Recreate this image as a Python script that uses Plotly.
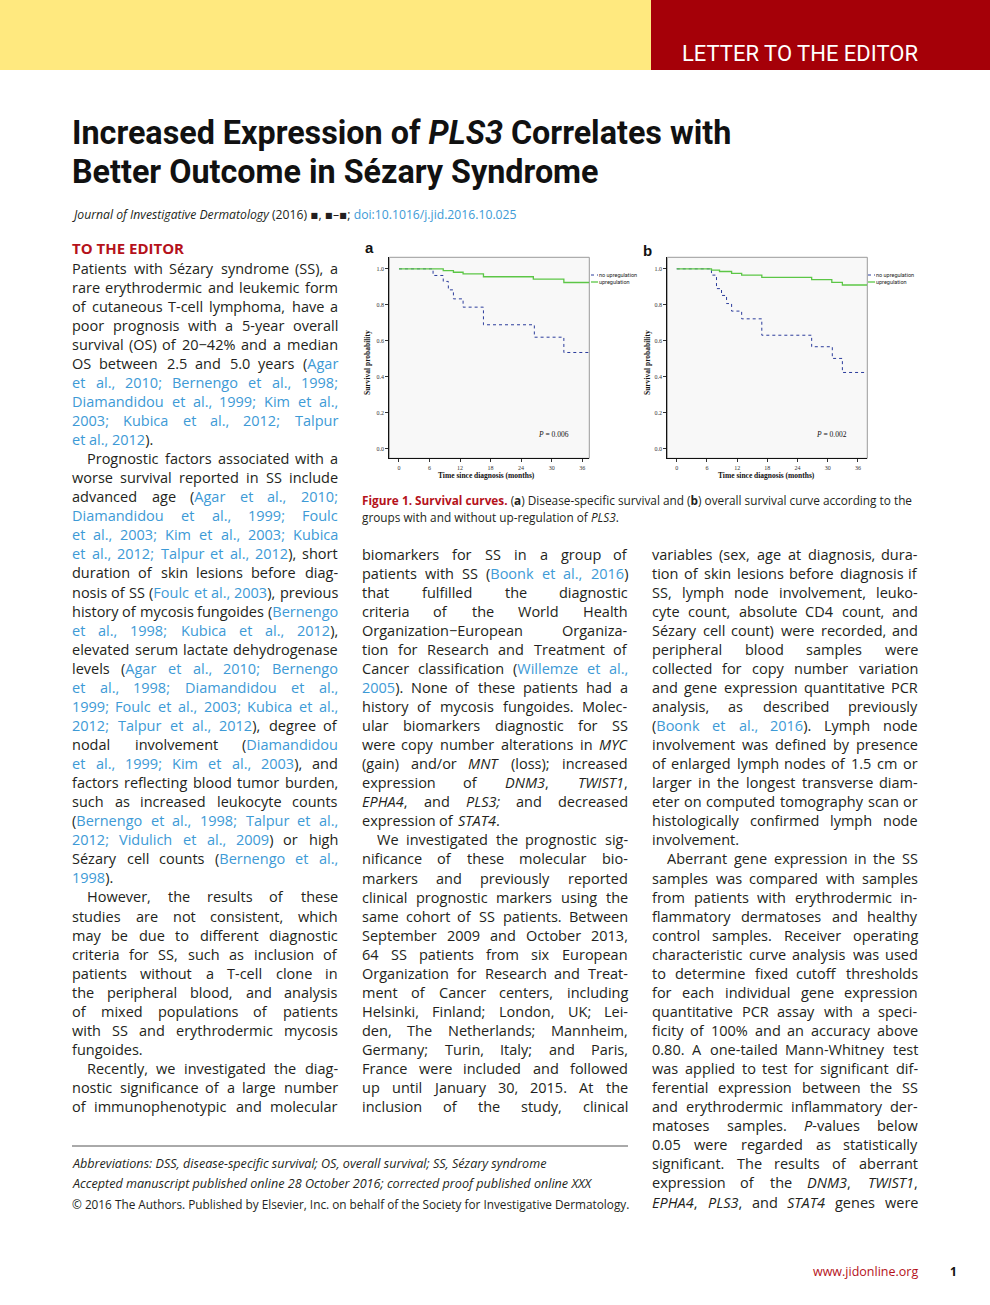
import plotly.graph_objects as go

W, H = 990, 1305

# ---------------- data (Kaplan-Meier step curves) ----------------
months_ticks = [0, 6, 12, 18, 24, 30, 36]
surv_ticks = [0.0, 0.2, 0.4, 0.6, 0.8, 1.0]

# panel a: disease-specific survival
a_up_t = [0, 8.7, 10.7, 12.6, 16.6, 26.4, 32.4, 37.4]
a_up_s = [1.0, 0.990, 0.981, 0.972, 0.956, 0.943, 0.924, 0.924]
a_no_t = [0, 6.7, 8.7, 9.7, 10.7, 12.6, 16.6, 26.6, 32.4, 37.4]
a_no_s = [1.0, 0.963, 0.930, 0.883, 0.833, 0.787, 0.689, 0.620, 0.535, 0.535]

# panel b: overall survival
b_up_t = [0, 6.9, 8.5, 10.9, 12.9, 16.9, 26.8, 30.8, 32.9, 37.8]
b_up_s = [1.0, 0.993, 0.985, 0.975, 0.965, 0.952, 0.940, 0.925, 0.910, 0.910]
b_no_t = [0, 6.9, 7.9, 8.9, 9.9, 10.9, 12.9, 16.9, 26.8, 30.9, 32.9, 37.8]
b_no_s = [1.0, 0.965, 0.890, 0.852, 0.807, 0.765, 0.722, 0.631, 0.567, 0.502, 0.424, 0.424]

legend_labels = ["no upregulation", "upregulation"]
p_values = ["0.006", "0.002"]

# ---------------- page text ----------------
# markup: [ ] = link colour, { } = italic, leading ">" = paragraph indent
title_lines = ["Increased Expression of <i>PLS3</i> Correlates with",
               "Better Outcome in Sézary Syndrome"]

col1 = [
    "Patients with Sézary syndrome (SS), a",
    "rare erythrodermic and leukemic form",
    "of cutaneous T-cell lymphoma, have a",
    "poor prognosis with a 5-year overall",
    "survival (OS) of 20\u221242% and a median",
    "OS between 2.5 and 5.0 years ([Agar]",
    "[et al., 2010; Bernengo et al., 1998;]",
    "[Diamandidou et al., 1999; Kim et al.,]",
    "[2003; Kubica et al., 2012; Talpur]",
    "[et al., 2012]).",
    ">Prognostic factors associated with a",
    "worse survival reported in SS include",
    "advanced age ([Agar et al., 2010;]",
    "[Diamandidou et al., 1999; Foulc]",
    "[et al., 2003; Kim et al., 2003; Kubica]",
    "[et al., 2012; Talpur et al., 2012]), short",
    "duration of skin lesions before diag-",
    "nosis of SS ([Foulc et al., 2003]), previous",
    "history of mycosis fungoides ([Bernengo]",
    "[et al., 1998; Kubica et al., 2012]),",
    "elevated serum lactate dehydrogenase",
    "levels ([Agar et al., 2010; Bernengo]",
    "[et al., 1998; Diamandidou et al.,]",
    "[1999; Foulc et al., 2003; Kubica et al.,]",
    "[2012; Talpur et al., 2012]), degree of",
    "nodal involvement ([Diamandidou]",
    "[et al., 1999; Kim et al., 2003]), and",
    "factors reflecting blood tumor burden,",
    "such as increased leukocyte counts",
    "([Bernengo et al., 1998; Talpur et al.,]",
    "[2012; Vidulich et al., 2009]) or high",
    "Sézary cell counts ([Bernengo et al.,]",
    "[1998]).",
    ">However, the results of these",
    "studies are not consistent, which",
    "may be due to different diagnostic",
    "criteria for SS, such as inclusion of",
    "patients without a T-cell clone in",
    "the peripheral blood, and analysis",
    "of mixed populations of patients",
    "with SS and erythrodermic mycosis",
    "fungoides.",
    ">Recently, we investigated the diag-",
    "nostic significance of a large number",
    "of immunophenotypic and molecular",
]

col2 = [
    "biomarkers for SS in a group of",
    "patients with SS ([Boonk et al., 2016])",
    "that fulfilled the diagnostic",
    "criteria of the World Health",
    "Organization\u2212European Organiza-",
    "tion for Research and Treatment of",
    "Cancer classification ([Willemze et al.,]",
    "[2005]). None of these patients had a",
    "history of mycosis fungoides. Molec-",
    "ular biomarkers diagnostic for SS",
    "were copy number alterations in {MYC}",
    "(gain) and/or {MNT} (loss); increased",
    "expression of {DNM3}, {TWIST1},",
    "{EPHA4}, and {PLS3;} and decreased",
    "expression of {STAT4}.",
    ">We investigated the prognostic sig-",
    "nificance of these molecular bio-",
    "markers and previously reported",
    "clinical prognostic markers using the",
    "same cohort of SS patients. Between",
    "September 2009 and October 2013,",
    "64 SS patients from six European",
    "Organization for Research and Treat-",
    "ment of Cancer centers, including",
    "Helsinki, Finland; London, UK; Lei-",
    "den, The Netherlands; Mannheim,",
    "Germany; Turin, Italy; and Paris,",
    "France were included and followed",
    "up until January 30, 2015. At the",
    "inclusion of the study, clinical",
]

col3 = [
    "variables (sex, age at diagnosis, dura-",
    "tion of skin lesions before diagnosis if",
    "SS, lymph node involvement, leuko-",
    "cyte count, absolute CD4 count, and",
    "Sézary cell count) were recorded, and",
    "peripheral blood samples were",
    "collected for copy number variation",
    "and gene expression quantitative PCR",
    "analysis, as described previously",
    "([Boonk et al., 2016]). Lymph node",
    "involvement was defined by presence",
    "of enlarged lymph nodes of 1.5 cm or",
    "larger in the longest transverse diam-",
    "eter on computed tomography scan or",
    "histologically confirmed lymph node",
    "involvement.",
    ">Aberrant gene expression in the SS",
    "samples was compared with samples",
    "from patients with erythrodermic in-",
    "flammatory dermatoses and healthy",
    "control samples. Receiver operating",
    "characteristic curve analysis was used",
    "to determine fixed cutoff thresholds",
    "for each individual gene expression",
    "quantitative PCR assay with a speci-",
    "ficity of 100% and an accuracy above",
    "0.80. A one-tailed Mann-Whitney test",
    "was applied to test for significant dif-",
    "ferential expression between the SS",
    "and erythrodermic inflammatory der-",
    "matoses samples. {P}-values below",
    "0.05 were regarded as statistically",
    "significant. The results of aberrant",
    "expression of the {DNM3}, {TWIST1},",
    "{EPHA4}, {PLS3}, and {STAT4} genes were",
]

footnotes = [
    "<i>Abbreviations: DSS, disease-specific survival; OS, overall survival; SS, Sézary syndrome</i>",
    "<i>Accepted manuscript published online 28 October 2016; corrected proof published online XXX</i>",
    "\u00a9 2016 The Authors. Published by Elsevier, Inc. on behalf of the Society for Investigative Dermatology.",
]

# ---------------- styles ----------------
INK = "#231f20"
LINK = "#3d9ad6"
RED = "#b5121b"
BODY = "Open Sans, Noto Sans, DejaVu Sans, sans-serif"
NARROW = "Roboto, sans-serif"
SERIF = "Liberation Serif, DejaVu Serif, serif"
GREEN = "#5cc646"
BLUE = "#2b3c9c"
BODY_SIZE = 14.5

# approximate Open Sans advance widths (units per 2048 em) for word placement
ADV = {" ": 532, ".": 545, ",": 502, "-": 659, ":": 545, ";": 545, "(": 575, ")": 575,
       "%": 1696, "\u2212": 1171, "/": 588, "'": 373,
       "a": 1139, "b": 1255, "c": 975, "d": 1255, "e": 1149, "é": 1149, "f": 694, "g": 1122,
       "h": 1257, "i": 518, "j": 518, "k": 1075, "l": 518, "m": 1905, "n": 1257, "o": 1237,
       "p": 1255, "q": 1255, "r": 836, "s": 977, "t": 723, "u": 1257, "v": 1026, "w": 1593,
       "x": 1073, "y": 1028, "z": 977,
       "A": 1296, "B": 1327, "C": 1292, "D": 1493, "E": 1139, "F": 1057, "G": 1491, "H": 1511,
       "I": 571, "J": 547, "K": 1257, "L": 1063, "M": 1849, "N": 1554, "O": 1597, "P": 1235,
       "Q": 1597, "R": 1268, "S": 1118, "T": 1130, "U": 1509, "V": 1220, "W": 1899, "X": 1163,
       "Y": 1149, "Z": 1118}
for d in "0123456789":
    ADV[d] = 1171


def px(x):
    return x / W


def py(y):
    return 1 - y / H


annotations = []


def add_text(x, y, s, size, color=INK, family=BODY, xanchor="left", yanchor="middle",
             weight="normal", textangle=0):
    annotations.append(dict(
        x=px(x), y=py(y), xref="paper", yref="paper", text=s, showarrow=False,
        xanchor=xanchor, yanchor=yanchor, textangle=textangle,
        font=dict(size=size, color=color, family=family, weight=weight),
        borderpad=0, borderwidth=0,
    ))


def parse_words(line):
    """split a marked-up line into words; each word is a list of (char, link, italic)."""
    words, cur = [], []
    link = ital = False
    for ch in line:
        if ch == "[":
            link = True
        elif ch == "]":
            link = False
        elif ch == "{":
            ital = True
        elif ch == "}":
            ital = False
        elif ch == " ":
            if cur:
                words.append(cur)
            cur = []
        else:
            cur.append((ch, link, ital))
    if cur:
        words.append(cur)
    return words


def word_html(word):
    out, i = "", 0
    while i < len(word):
        _, lk, it = word[i]
        j = i
        seg = ""
        while j < len(word) and word[j][1] == lk and word[j][2] == it:
            seg += word[j][0]
            j += 1
        if it:
            seg = "<i>" + seg + "</i>"
        if lk:
            seg = "<span style='color:%s'>%s</span>" % (LINK, seg)
        out += seg
        i = j
    return out


def word_width(word, size):
    return sum(ADV.get(c, 1150) * (0.96 if it else 1.0) for c, _, it in word) / 2048 * size


def add_column(lines, x0, y0, x1, step=19.06, size=BODY_SIZE):
    for i, line in enumerate(lines):
        indent = 0
        if line.startswith(">"):
            line = line[1:]
            indent = 15
        nxt = lines[i + 1] if i + 1 < len(lines) else ""
        justify = not nxt.startswith(">") and i + 1 < len(lines) or (i + 1 == len(lines))
        words = parse_words(line)
        widths = [word_width(w, size) for w in words]
        space = ADV[" "] / 2048 * size
        y = y0 + i * step
        left = x0 + indent
        if justify and len(words) > 1:
            gap = (x1 - left - sum(widths)) / (len(words) - 1)
            gap = max(gap, 0.6 * space)
        else:
            gap = space
        x = left
        for k, (w, ww) in enumerate(zip(words, widths)):
            html = word_html(w)
            if k == 0:
                add_text(left, y, html, size)
            elif justify and k == len(words) - 1:
                add_text(x1, y, html, size, xanchor="right")
            else:
                add_text(x + ww / 2, y, html, size, xanchor="center")
            x += ww + gap


# ---------------- figure ----------------
fig = go.Figure()

panels = [
    dict(xa="x", ya="y", dom_x=(389.3, 589.3), xr=(-1.9, 37.4),
         up=(a_up_t, a_up_s), no=(a_no_t, a_no_s)),
    dict(xa="x2", ya="y2", dom_x=(667.3, 867.3), xr=(-1.87, 37.85),
         up=(b_up_t, b_up_s), no=(b_no_t, b_no_s)),
]
y_top, y_bot = 257.3, 458.3
yr = (-0.053, 1.064)

for i, p in enumerate(panels):
    fig.add_trace(go.Scatter(x=p["no"][0], y=p["no"][1], mode="lines", line_shape="hv",
                             line=dict(color=BLUE, width=1, dash="dot"),
                             xaxis=p["xa"], yaxis=p["ya"], showlegend=False,
                             name=legend_labels[0]))
    fig.add_trace(go.Scatter(x=p["up"][0], y=p["up"][1], mode="lines", line_shape="hv",
                             line=dict(color=GREEN, width=1.3),
                             xaxis=p["xa"], yaxis=p["ya"], showlegend=False,
                             name=legend_labels[1]))

axis_common = dict(showgrid=False, zeroline=False, showline=True, linecolor="#111",
                   linewidth=1, ticks="outside", ticklen=3, tickcolor="#333",
                   tickfont=dict(family=SERIF, size=6, color="#333"))
layout_axes = {}
for i, p in enumerate(panels):
    sx = "" if i == 0 else "2"
    layout_axes["xaxis" + sx] = dict(
        domain=[px(p["dom_x"][0]), px(p["dom_x"][1])], range=list(p["xr"]),
        tickvals=months_ticks, anchor="y" + sx, **axis_common)
    layout_axes["yaxis" + sx] = dict(
        domain=[py(y_bot), py(y_top)], range=list(yr), tickvals=surv_ticks,
        tickformat=".1f", anchor="x" + sx, **axis_common)

shapes = []
# header bands
shapes.append(dict(type="rect", xref="paper", yref="paper", x0=0, x1=px(651), y0=py(70), y1=1,
                   fillcolor="#ffe97f", line=dict(width=0), layer="below"))
shapes.append(dict(type="rect", xref="paper", yref="paper", x0=px(651), x1=1, y0=py(70), y1=1,
                   fillcolor="#a50008", line=dict(width=0), layer="below"))
# plot frames (grey top/right edge) and background
for i, p in enumerate(panels):
    sx = "" if i == 0 else "2"
    shapes.append(dict(type="rect", xref="x%s domain" % sx, yref="y%s domain" % sx,
                       x0=0, x1=1, y0=0, y1=1, fillcolor="#f8f8f8",
                       line=dict(color="#9a9a9a", width=1), layer="below"))
# footer rule
shapes.append(dict(type="line", xref="paper", yref="paper", x0=px(72), x1=px(628),
                   y0=py(1146), y1=py(1146), line=dict(color="#555", width=1)))

# legends (manual, outside right of each panel)
leg_pos = [(591, 275, 282), (868, 275, 282)]
for (lx, ly1, ly2) in leg_pos:
    shapes.append(dict(type="line", xref="paper", yref="paper", x0=px(lx), x1=px(lx + 7),
                       y0=py(ly1), y1=py(ly1), line=dict(color=BLUE, width=1, dash="dot")))
    shapes.append(dict(type="line", xref="paper", yref="paper", x0=px(lx), x1=px(lx + 7),
                       y0=py(ly2), y1=py(ly2), line=dict(color=GREEN, width=1.3)))
    add_text(lx + 8, ly1, legend_labels[0], 5.5, color="#222", family=NARROW)
    add_text(lx + 8, ly2, legend_labels[1], 5.5, color="#222", family=NARROW)

# panel letters, axis titles, p values
add_text(365, 248, "a", 15, color="#111", family="Liberation Sans, Arial, sans-serif", weight="bold")
add_text(643, 250, "b", 15, color="#111", family="Liberation Sans, Arial, sans-serif", weight="bold")
for cx, ytx in [(367, 363), (647, 363)]:
    add_text(cx, ytx, "Survival probability", 7.5, color="#111", family=SERIF, xanchor="center",
             weight="bold", textangle=-90)
for cx in [486, 766]:
    add_text(cx, 475.5, "Time since diagnosis (months)", 7.5, color="#111", family=SERIF,
             xanchor="center", weight="bold")
add_text(553, 434, "<i>P</i> = " + p_values[0], 7.5, color="#111", family=SERIF, xanchor="center")
add_text(831, 434, "<i>P</i> = " + p_values[1], 7.5, color="#111", family=SERIF, xanchor="center")

# header / title
add_text(918, 54, "LETTER TO THE EDITOR", 22, color="white", family=NARROW, xanchor="right")
add_text(72, 133, title_lines[0], 32.3, color="#111", family=NARROW, weight="bold")
add_text(72, 172, title_lines[1], 32.3, color="#111", family=NARROW, weight="bold")
add_text(72, 214, "<i>Journal of Investigative Dermatology</i> (2016) \u25aa, \u25aa\u2013\u25aa; "
         "<span style='color:%s'>doi:10.1016/j.jid.2016.10.025</span>" % LINK,
         12.2, family=BODY)
add_text(72, 248, "TO THE EDITOR", 15, color=RED, family=BODY, weight="bold")

# caption
add_text(362, 500, "<span style='color:%s'><b>Figure 1. Survival curves.</b></span> (<b>a</b>) "
         "Disease-specific survival and (<b>b</b>) overall survival curve according to the" % RED,
         11.8)
add_text(362, 517, "groups with and without up-regulation of <i>PLS3</i>.", 11.8)

# body columns (justified)
add_column(col1, 72, 268, 338)
add_column(col2, 362, 554, 628)
add_column(col3, 652, 554, 918)

# footnotes
for i, (f, s) in enumerate(zip(footnotes, [12.6, 12.6, 11.8])):
    add_text(72, 1163 + i * 20.5, f, s)

# page footer
add_text(918, 1271, "www.jidonline.org", 12.5, color=RED, xanchor="right")
add_text(957, 1271, "1", 12, color="#111", xanchor="right", weight="bold")

fig.update_layout(
    width=W, height=H, autosize=False,
    margin=dict(l=0, r=0, t=0, b=0, pad=0),
    paper_bgcolor="white", plot_bgcolor="rgba(0,0,0,0)",
    showlegend=False, annotations=annotations, shapes=shapes,
    **layout_axes,
)

fig.write_html("out.html", config={"displayModeBar": False},
               post_script="document.body.style.margin='0';")
